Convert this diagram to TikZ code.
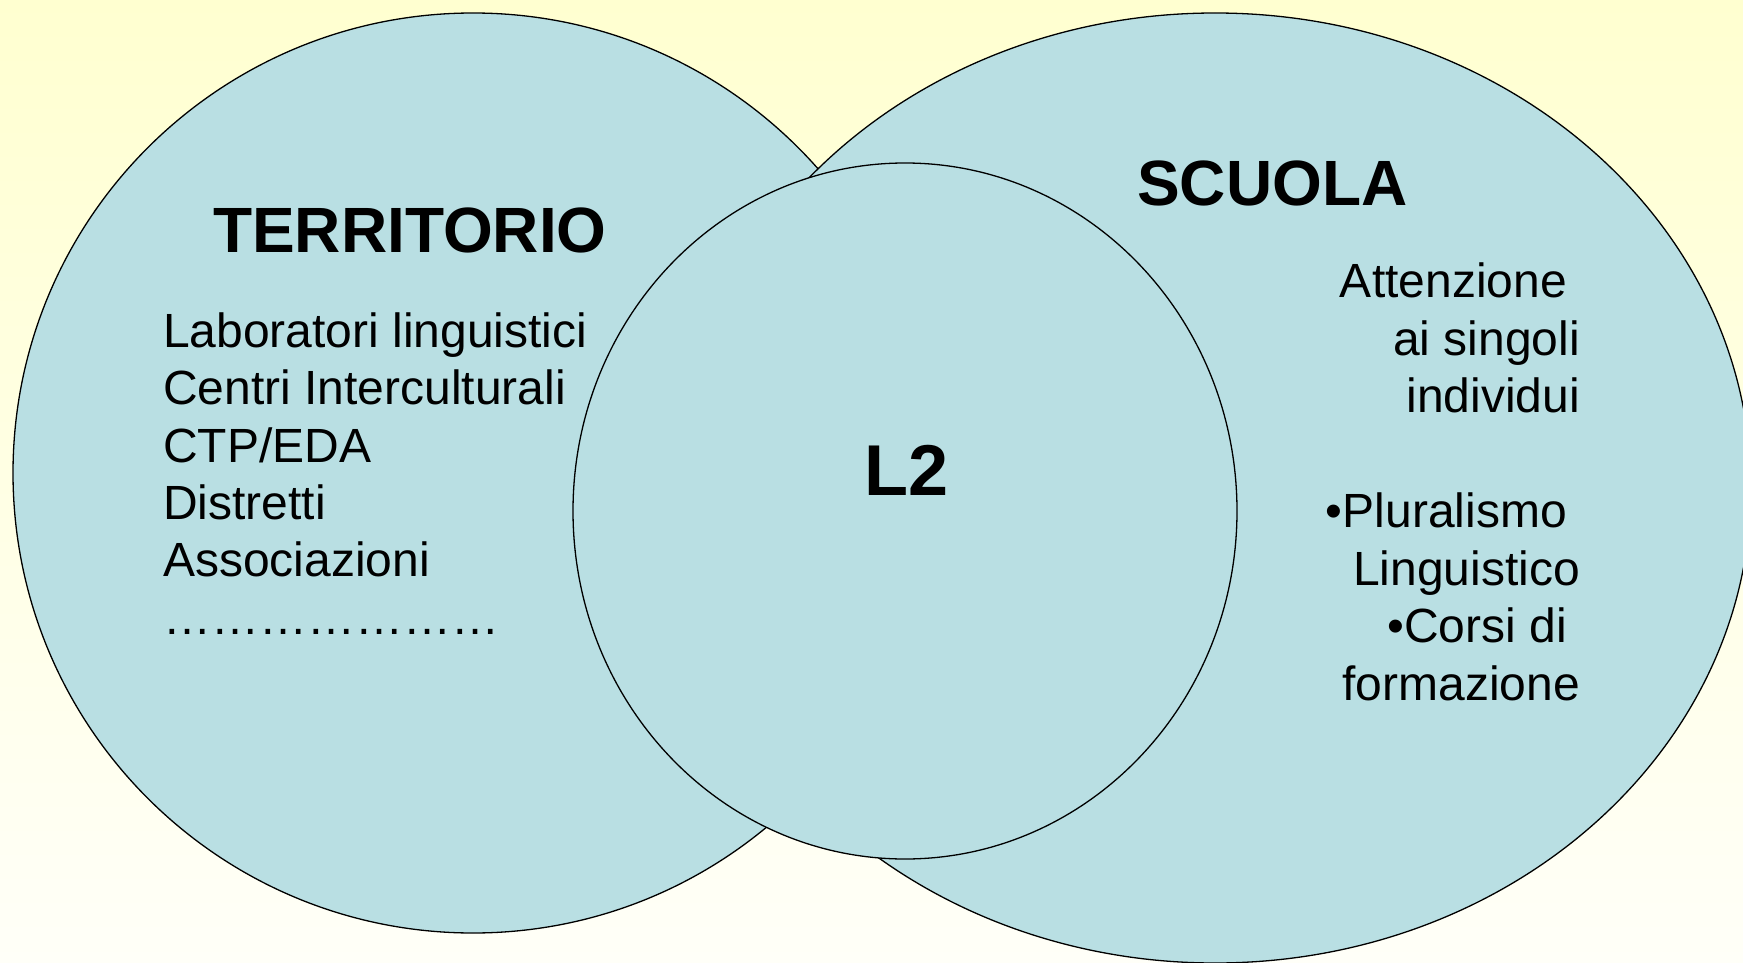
\documentclass[tikz,border=0pt]{standalone}
\usepackage{fontspec}
\setmainfont{Liberation Sans}
\definecolor{bgtop}{RGB}{255,255,208}
\definecolor{bgbot}{RGB}{255,255,248}
\definecolor{bubble}{RGB}{185,223,227}
\begin{document}
\begin{tikzpicture}[x=1pt,y=-1pt,
  bubblestyle/.style={fill=bubble,draw=black,line width=1.3pt},
  titletext/.style={inner sep=0pt,font=\fontsize{64}{76}\selectfont\bfseries},
  bigtext/.style={inner sep=0pt,font=\fontsize{72}{86}\selectfont\bfseries},
  listtext/.style={inner sep=0pt,anchor=base west,font=\fontsize{48}{57}\selectfont},
  righttext/.style={inner sep=0pt,anchor=base east,font=\fontsize{48}{57}\selectfont}]
\useasboundingbox (0,0) rectangle (1743,963);
\clip (0,0) rectangle (1743,963);
\shade[top color=bgtop,bottom color=bgbot] (0,0) rectangle (1743,963);
% ellipses
\coordinate (cl) at (473,473);
\coordinate (cr) at (1215,488);
\coordinate (cm) at (905,511);
\draw[bubblestyle] (cl) ellipse [x radius=460pt, y radius=460pt];
\draw[bubblestyle] (cr) ellipse [x radius=536pt, y radius=475pt];
\draw[bubblestyle] (cm) ellipse [x radius=332pt, y radius=348pt];
% titles
\node[titletext,anchor=base west] (territorio) at (213,252) {TERRITORIO};
\node[titletext,anchor=base west] (scuola) at (1137,205) {SCUOLA};
\node[bigtext,anchor=base west] (l2) at (864,495) {L2};
% left list
\node[listtext] (t1) at (163,347) {Laboratori linguistici};
\node[listtext] (t2) at (163,404.5) {Centri Interculturali};
\node[listtext] (t3) at (163,462) {CTP/EDA};
\node[listtext] (t4) at (163,519) {Distretti};
\node[listtext] (t5) at (163,576.5) {Associazioni};
\node[listtext] (t6) at (163,634) {…………………};
% right list
\node[righttext] (s1) at (1567,297.5) {Attenzione};
\node[righttext] (s2) at (1580,355) {ai singoli};
\node[righttext] (s3) at (1580,412.5) {individui};
\node[righttext] (s4) at (1567,527.5) {•Pluralismo};
\node[righttext] (s5) at (1580,585) {Linguistico};
\node[righttext] (s6) at (1567,642.5) {•Corsi di};
\node[righttext] (s7) at (1580,700) {formazione};
\end{tikzpicture}
\end{document}
